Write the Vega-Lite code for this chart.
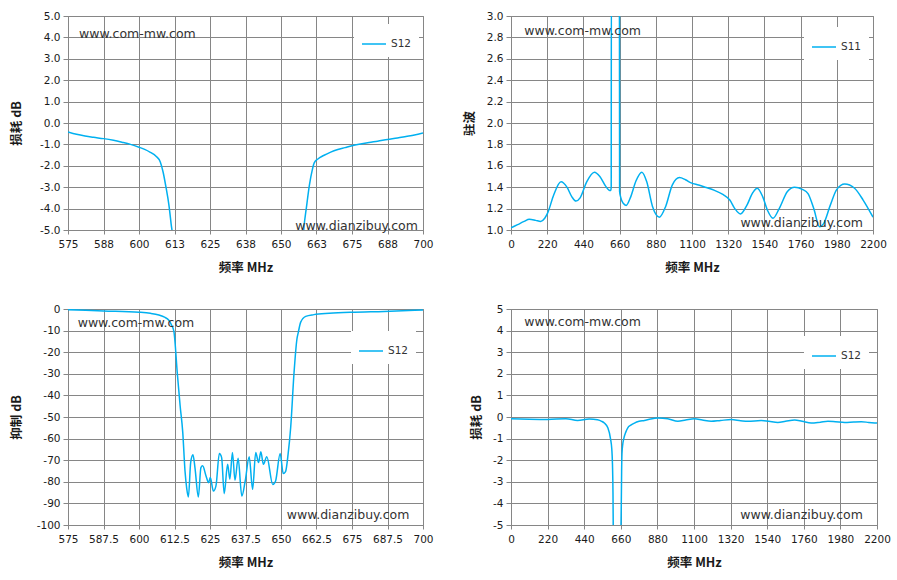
{
  "$schema": "https://vega.github.io/schema/vega-lite/v6.json",
  "padding": {"left": 9, "top": 10, "right": 5, "bottom": 5},
  "background": "white",
  "bounds": "flush",
  "columns": 2,
  "spacing": {"column": 88, "row": 79},
  "resolve": {"scale": {"color": "independent"}, "legend": {"color": "independent"}},
  "datasets": {
    "p1": [
      {"f": 575, "v": -0.42}, {"f": 578, "v": -0.53}, {"f": 581, "v": -0.61}, {"f": 584, "v": -0.67},
      {"f": 587.5, "v": -0.73}, {"f": 591, "v": -0.81}, {"f": 594, "v": -0.9}, {"f": 597, "v": -1.0},
      {"f": 600, "v": -1.13}, {"f": 602, "v": -1.23}, {"f": 604, "v": -1.37}, {"f": 606, "v": -1.55},
      {"f": 607.5, "v": -1.82}, {"f": 608.5, "v": -2.3}, {"f": 609.5, "v": -3.0}, {"f": 610.5, "v": -3.8},
      {"f": 611.3, "v": -4.7}, {"f": 612, "v": -5.6}, {"f": 612.3, "v": -6.5},
      {"f": 657.3, "v": -6.5}, {"f": 658, "v": -5.0}, {"f": 659, "v": -3.9}, {"f": 660, "v": -2.9},
      {"f": 661, "v": -2.2}, {"f": 661.7, "v": -1.86}, {"f": 663, "v": -1.68}, {"f": 665, "v": -1.52},
      {"f": 667.5, "v": -1.36}, {"f": 670, "v": -1.24}, {"f": 672.5, "v": -1.15}, {"f": 675, "v": -1.06},
      {"f": 678, "v": -0.98}, {"f": 681, "v": -0.91}, {"f": 684, "v": -0.85}, {"f": 687.5, "v": -0.77},
      {"f": 691, "v": -0.7}, {"f": 694, "v": -0.63}, {"f": 697, "v": -0.56}, {"f": 700, "v": -0.47}
    ],
    "p2": [
      {"f": 0, "v": 1.02}, {"f": 40, "v": 1.05}, {"f": 80, "v": 1.08}, {"f": 111, "v": 1.1},
      {"f": 150, "v": 1.09}, {"f": 180, "v": 1.08}, {"f": 205, "v": 1.11}, {"f": 223, "v": 1.16},
      {"f": 260, "v": 1.33}, {"f": 304, "v": 1.45}, {"f": 340, "v": 1.4}, {"f": 370, "v": 1.31},
      {"f": 395, "v": 1.27}, {"f": 420, "v": 1.3}, {"f": 460, "v": 1.45}, {"f": 507, "v": 1.54},
      {"f": 540, "v": 1.5}, {"f": 575, "v": 1.41}, {"f": 600, "v": 1.37}, {"f": 606, "v": 1.37},
      {"f": 609, "v": 1.4}, {"f": 610, "v": 3.3}, {"f": 659, "v": 3.3}, {"f": 660, "v": 1.36},
      {"f": 666, "v": 1.31}, {"f": 682, "v": 1.25}, {"f": 700, "v": 1.23}, {"f": 725, "v": 1.3},
      {"f": 760, "v": 1.46}, {"f": 795, "v": 1.54}, {"f": 825, "v": 1.45}, {"f": 860, "v": 1.22},
      {"f": 902, "v": 1.12}, {"f": 940, "v": 1.22}, {"f": 980, "v": 1.42}, {"f": 1024, "v": 1.49},
      {"f": 1060, "v": 1.47}, {"f": 1095, "v": 1.44}, {"f": 1140, "v": 1.42}, {"f": 1180, "v": 1.4},
      {"f": 1237, "v": 1.37}, {"f": 1290, "v": 1.33}, {"f": 1330, "v": 1.28}, {"f": 1360, "v": 1.2},
      {"f": 1395, "v": 1.15}, {"f": 1430, "v": 1.22}, {"f": 1470, "v": 1.35}, {"f": 1496, "v": 1.39},
      {"f": 1530, "v": 1.31}, {"f": 1560, "v": 1.18}, {"f": 1592, "v": 1.11}, {"f": 1630, "v": 1.2},
      {"f": 1680, "v": 1.36}, {"f": 1723, "v": 1.4}, {"f": 1770, "v": 1.38}, {"f": 1805, "v": 1.34},
      {"f": 1840, "v": 1.2}, {"f": 1875, "v": 1.03}, {"f": 1900, "v": 1.06}, {"f": 1940, "v": 1.23},
      {"f": 1980, "v": 1.38}, {"f": 2028, "v": 1.43}, {"f": 2088, "v": 1.39}, {"f": 2140, "v": 1.28},
      {"f": 2200, "v": 1.12}
    ],
    "p3": [
      {"f": 575, "v": -0.3}, {"f": 587.5, "v": -0.9}, {"f": 600, "v": -1.5}, {"f": 604, "v": -2.0},
      {"f": 607, "v": -2.8}, {"f": 609, "v": -3.8}, {"f": 610.5, "v": -5.2}, {"f": 611.5, "v": -7.5},
      {"f": 612.3, "v": -10.5}, {"f": 613.5, "v": -30}, {"f": 614.5, "v": -45}, {"f": 615.4, "v": -57},
      {"f": 616.2, "v": -75}, {"f": 616.8, "v": -83}, {"f": 617.4, "v": -87}, {"f": 618.2, "v": -71},
      {"f": 619.0, "v": -67.5}, {"f": 619.7, "v": -73.4}, {"f": 620.9, "v": -87}, {"f": 621.8, "v": -73.4},
      {"f": 622.4, "v": -72.6}, {"f": 623.6, "v": -77.3}, {"f": 624.5, "v": -80.4}, {"f": 625.1, "v": -78},
      {"f": 626.2, "v": -84.3}, {"f": 627.1, "v": -81.9}, {"f": 628.3, "v": -66.9}, {"f": 629.1, "v": -68.8},
      {"f": 630.0, "v": -85.5}, {"f": 631.2, "v": -71.9}, {"f": 632.0, "v": -78.8}, {"f": 632.9, "v": -66.4},
      {"f": 633.8, "v": -79.3}, {"f": 634.9, "v": -69.1}, {"f": 636.2, "v": -86.6}, {"f": 637.4, "v": -79.6},
      {"f": 638.8, "v": -68.4}, {"f": 640.0, "v": -83.5}, {"f": 641.1, "v": -66.4}, {"f": 642.1, "v": -71.1},
      {"f": 642.9, "v": -66.1}, {"f": 643.8, "v": -71.9}, {"f": 645.0, "v": -68.4}, {"f": 647.1, "v": -81.2},
      {"f": 648.1, "v": -79.6}, {"f": 649.7, "v": -66.9}, {"f": 650.8, "v": -76.2}, {"f": 651.6, "v": -75.3},
      {"f": 652.5, "v": -67.2}, {"f": 653.4, "v": -55}, {"f": 654.6, "v": -29.3}, {"f": 655.6, "v": -14},
      {"f": 656.1, "v": -10.8}, {"f": 656.9, "v": -6.2}, {"f": 658.7, "v": -3.4}, {"f": 661.6, "v": -2.6},
      {"f": 667, "v": -2.0}, {"f": 674.5, "v": -1.5}, {"f": 686.3, "v": -1.1}, {"f": 700, "v": -0.5}
    ],
    "p4": [
      {"f": 0, "v": -0.08}, {"f": 110, "v": -0.1}, {"f": 220, "v": -0.11}, {"f": 330, "v": -0.08},
      {"f": 400, "v": -0.16}, {"f": 470, "v": -0.09}, {"f": 520, "v": -0.13}, {"f": 545, "v": -0.2},
      {"f": 561, "v": -0.28}, {"f": 582, "v": -0.5}, {"f": 598, "v": -1.0}, {"f": 606, "v": -1.5},
      {"f": 610, "v": -2.2}, {"f": 613, "v": -3.5}, {"f": 615, "v": -5.5}, {"f": 616, "v": -6},
      {"f": 660, "v": -6}, {"f": 661, "v": -5.2}, {"f": 663, "v": -4.0}, {"f": 665, "v": -2.5},
      {"f": 667, "v": -1.7}, {"f": 672, "v": -1.25}, {"f": 678, "v": -1.0}, {"f": 690, "v": -0.7},
      {"f": 702, "v": -0.5}, {"f": 720, "v": -0.38}, {"f": 742, "v": -0.28}, {"f": 770, "v": -0.2},
      {"f": 802, "v": -0.16}, {"f": 840, "v": -0.09}, {"f": 882, "v": -0.05}, {"f": 942, "v": -0.08},
      {"f": 1003, "v": -0.2}, {"f": 1050, "v": -0.14}, {"f": 1103, "v": -0.08}, {"f": 1150, "v": -0.14},
      {"f": 1203, "v": -0.2}, {"f": 1260, "v": -0.16}, {"f": 1324, "v": -0.12}, {"f": 1380, "v": -0.17},
      {"f": 1424, "v": -0.2}, {"f": 1504, "v": -0.16}, {"f": 1550, "v": -0.2}, {"f": 1604, "v": -0.25},
      {"f": 1650, "v": -0.2}, {"f": 1705, "v": -0.14}, {"f": 1750, "v": -0.2}, {"f": 1805, "v": -0.28},
      {"f": 1860, "v": -0.24}, {"f": 1905, "v": -0.2}, {"f": 1950, "v": -0.22}, {"f": 2006, "v": -0.25},
      {"f": 2060, "v": -0.23}, {"f": 2106, "v": -0.22}, {"f": 2150, "v": -0.25}, {"f": 2200, "v": -0.28}
    ]
  },
  "concat": [
    {
      "width": 355,
      "height": 214,
      "layer": [
        {
          "data": {"name": "p1"},
          "mark": {"type": "line", "clip": true, "interpolate": "monotone", "strokeWidth": 1.5},
          "encoding": {
            "x": {"field": "f", "type": "quantitative", "scale": {"domain": [575, 700], "nice": false, "zero": false},
              "axis": {"values": [575, 587.5, 600, 612.5, 625, 637.5, 650, 662.5, 675, 687.5, 700], "tickCount": 30, "format": ".0f", "title": "频率 MHz"}},
            "y": {"field": "v", "type": "quantitative", "scale": {"domain": [-5, 5], "nice": false},
              "axis": {"values": [-5, -4, -3, -2, -1, 0, 1, 2, 3, 4, 5], "tickCount": 30, "format": ".1f", "title": "损耗 dB", "titleX": -52}},
            "color": {"datum": "S12", "scale": {"range": ["#00B0F0"]},
              "legend": {"orient": "none", "legendX": 286, "legendY": 8}}
          }
        },
        {
          "data": {"values": [{}]},
          "mark": {"type": "text", "align": "left", "baseline": "middle"},
          "encoding": {"x": {"datum": 578.9}, "y": {"datum": 4.17}, "text": {"value": "www.com-mw.com"}}
        },
        {
          "data": {"values": [{}]},
          "mark": {"type": "text", "align": "left", "baseline": "middle"},
          "encoding": {"x": {"datum": 655}, "y": {"datum": -4.81}, "text": {"value": "www.dianzibuy.com"}}
        }
      ]
    },
    {
      "width": 362,
      "height": 214,
      "layer": [
        {
          "data": {"name": "p2"},
          "mark": {"type": "line", "clip": true, "interpolate": "monotone", "strokeWidth": 1.5},
          "encoding": {
            "x": {"field": "f", "type": "quantitative", "scale": {"domain": [0, 2200], "nice": false},
              "axis": {"values": [0, 220, 440, 660, 880, 1100, 1320, 1540, 1760, 1980, 2200], "tickCount": 30, "format": "d", "title": "频率 MHz"}},
            "y": {"field": "v", "type": "quantitative", "scale": {"domain": [1, 3], "nice": false, "zero": false},
              "axis": {"values": [1, 1.2, 1.4, 1.6, 1.8, 2, 2.2, 2.4, 2.6, 2.8, 3], "tickCount": 30, "format": ".1f", "title": "驻波", "titleX": -42}},
            "color": {"datum": "S11", "scale": {"range": ["#00B0F0"]},
              "legend": {"orient": "none", "legendX": 293, "legendY": 11}}
          }
        },
        {
          "data": {"values": [{}]},
          "mark": {"type": "text", "align": "left", "baseline": "middle"},
          "encoding": {"x": {"datum": 81}, "y": {"datum": 2.86}, "text": {"value": "www.com-mw.com"}}
        },
        {
          "data": {"values": [{}]},
          "mark": {"type": "text", "align": "left", "baseline": "middle"},
          "encoding": {"x": {"datum": 1394}, "y": {"datum": 1.07}, "text": {"value": "www.dianzibuy.com"}}
        }
      ]
    },
    {
      "width": 355,
      "height": 216,
      "layer": [
        {
          "data": {"name": "p3"},
          "mark": {"type": "line", "clip": true, "interpolate": "monotone", "strokeWidth": 1.5},
          "encoding": {
            "x": {"field": "f", "type": "quantitative", "scale": {"domain": [575, 700], "nice": false, "zero": false},
              "axis": {"values": [575, 587.5, 600, 612.5, 625, 637.5, 650, 662.5, 675, 687.5, 700], "tickCount": 30, "format": ".1~f", "title": "频率 MHz"}},
            "y": {"field": "v", "type": "quantitative", "scale": {"domain": [-100, 0], "nice": false},
              "axis": {"values": [-100, -90, -80, -70, -60, -50, -40, -30, -20, -10, 0], "tickCount": 30, "format": "d", "title": "抑制 dB", "titleX": -52}},
            "color": {"datum": "S12", "scale": {"range": ["#00B0F0"]},
              "legend": {"orient": "none", "legendX": 283, "legendY": 22}}
          }
        },
        {
          "data": {"values": [{}]},
          "mark": {"type": "text", "align": "left", "baseline": "middle"},
          "encoding": {"x": {"datum": 578.4}, "y": {"datum": -6.3}, "text": {"value": "www.com-mw.com"}}
        },
        {
          "data": {"values": [{}]},
          "mark": {"type": "text", "align": "left", "baseline": "middle"},
          "encoding": {"x": {"datum": 652}, "y": {"datum": -95.5}, "text": {"value": "www.dianzibuy.com"}}
        }
      ]
    },
    {
      "width": 366,
      "height": 216,
      "layer": [
        {
          "data": {"name": "p4"},
          "mark": {"type": "line", "clip": true, "interpolate": "monotone", "strokeWidth": 1.5},
          "encoding": {
            "x": {"field": "f", "type": "quantitative", "scale": {"domain": [0, 2200], "nice": false},
              "axis": {"values": [0, 220, 440, 660, 880, 1100, 1320, 1540, 1760, 1980, 2200], "tickCount": 30, "format": "d", "title": "频率 MHz"}},
            "y": {"field": "v", "type": "quantitative", "scale": {"domain": [-5, 5], "nice": false},
              "axis": {"values": [-5, -4, -3, -2, -1, 0, 1, 2, 3, 4, 5], "tickCount": 30, "format": "d", "title": "损耗 dB", "titleX": -35}},
            "color": {"datum": "S12", "scale": {"range": ["#00B0F0"]},
              "legend": {"orient": "none", "legendX": 293, "legendY": 27}}
          }
        },
        {
          "data": {"values": [{}]},
          "mark": {"type": "text", "align": "left", "baseline": "middle"},
          "encoding": {"x": {"datum": 80}, "y": {"datum": 4.41}, "text": {"value": "www.com-mw.com"}}
        },
        {
          "data": {"values": [{}]},
          "mark": {"type": "text", "align": "left", "baseline": "middle"},
          "encoding": {"x": {"datum": 1378}, "y": {"datum": -4.53}, "text": {"value": "www.dianzibuy.com"}}
        }
      ]
    }
  ],
  "config": {
    "locale": {"number": {"decimal": ".", "thousands": ",", "grouping": [3], "currency": ["$", ""], "minus": "-"}},
    "view": {"stroke": "#868686", "strokeWidth": 1},
    "text": {"font": "DejaVu Sans", "fontSize": 12.5, "color": "#333333"},
    "axis": {
      "grid": true,
      "gridColor": "#868686",
      "gridOpacity": 1,
      "gridWidth": 1,
      "domainColor": "#868686",
      "tickColor": "#868686",
      "labelFont": "DejaVu Sans",
      "labelFontSize": 10.5,
      "labelColor": "#1a1a1a",
      "labelFlush": false,
      "labelOverlap": false,
      "titleFont": "Noto Sans CJK SC",
      "titleFontSize": 12.5,
      "titleFontWeight": "bold",
      "titleColor": "#1a1a1a"
    },
    "axisX": {"tickSize": 4, "labelPadding": 5, "titleY": 37, "titleBaseline": "middle"},
    "axisY": {"tickSize": 5, "labelPadding": 3, "titleBaseline": "middle"},
    "legend": {
      "title": null,
      "fillColor": "white",
      "padding": 7,
      "symbolType": "stroke",
      "symbolSize": 576,
      "symbolStrokeWidth": 1.5,
      "labelFont": "DejaVu Sans",
      "labelFontSize": 10.5,
      "labelColor": "#333333"
    }
  }
}
